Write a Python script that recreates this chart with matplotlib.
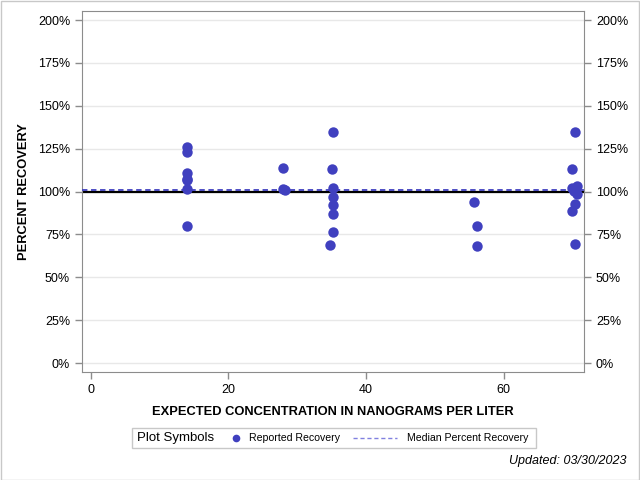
import matplotlib.pyplot as plt
from matplotlib.lines import Line2D
from matplotlib.patches import Rectangle
from matplotlib.ticker import FuncFormatter

# expected concentration (ng/L) and reported recovery (%)
conc = [14.0, 14.0, 14.0, 14.0, 14.0, 14.0, 14.0,
        27.9, 28.0, 28.3,
        35.2, 35.0, 35.2, 35.2, 35.2, 35.2, 35.2, 34.8,
        55.7, 56.1, 56.1,
        70.35, 70.0, 70.0, 70.6, 70.3, 70.6, 70.35, 70.0, 70.35]
recovery = [126.0, 123.0, 110.8, 107.5, 106.5, 101.5, 80.0,
            101.5, 113.8, 100.6,
            135.0, 113.2, 102.2, 96.8, 92.1, 86.8, 76.5, 68.8,
            94.0, 79.8, 68.2,
            134.8, 113.2, 102.2, 103.3, 100.2, 98.3, 92.6, 88.8, 69.4]
median_recovery = 101.1
ytick_vals = [0, 25, 50, 75, 100, 125, 150, 175, 200]
xtick_vals = [0, 20, 40, 60]

dot_color = '#4040BF'

plt.rcParams['font.family'] = ['Liberation Sans', 'DejaVu Sans']

fig = plt.figure(figsize=(6.4, 4.8), dpi=100)
fig.patches.append(Rectangle((0.001, 0.001), 0.997, 0.997, transform=fig.transFigure,
                             fill=False, edgecolor='#C8C8C8', linewidth=1))
ax = fig.add_axes([0.128, 0.2244, 0.7847, 0.7521])

ax.set_xlim(-1.26, 71.7)
ax.set_ylim(-5.4, 205.1)

for v in ytick_vals:
    ax.axhline(v, color='#E8E8E8', linewidth=1, zorder=0)

ax.axhline(100, color='black', linewidth=1.6, zorder=2)
ax.axhline(median_recovery, color=dot_color, linewidth=1.3, linestyle=(0, (3, 2)), zorder=3)
ax.plot(conc, recovery, 'o', color=dot_color, markersize=7.5, markeredgewidth=0, zorder=4)

ax.set_xticks(xtick_vals)
ax.set_yticks(ytick_vals)
pct = FuncFormatter(lambda v, p: f'{v:.0f}%')
ax.yaxis.set_major_formatter(pct)
ax.tick_params(axis='both', colors='#8C8C8C', labelcolor='black', labelsize=9, length=5, width=1)
ax.tick_params(axis='y', right=True, labelright=True)
for s in ax.spines.values():
    s.set_color('#8C8C8C')

ax.set_xlabel('EXPECTED CONCENTRATION IN NANOGRAMS PER LITER', fontsize=9.3,
              fontweight='bold', labelpad=7)
ax.set_ylabel('PERCENT RECOVERY', fontsize=9.3, fontweight='bold', labelpad=6)

# legend box: title + two entries on one row
ly = 0.0875
fig.patches.append(Rectangle((0.206, 0.067), 0.632, 0.041, transform=fig.transFigure,
                             fill=False, edgecolor='#C8C8C8', linewidth=1))
fig.text(0.214, ly, 'Plot Symbols', fontsize=9.5, va='center', ha='left')
fig.lines.append(Line2D([0.369], [ly], transform=fig.transFigure, linestyle='none',
                        marker='o', color=dot_color, markersize=5.5, markeredgewidth=0))
fig.text(0.389, ly, 'Reported Recovery', fontsize=7.6, va='center', ha='left')
fig.lines.append(Line2D([0.552, 0.621], [ly, ly], transform=fig.transFigure,
                        color='#8080E0', linestyle=(0, (3, 2)), linewidth=1))
fig.text(0.636, ly, 'Median Percent Recovery', fontsize=7.6, va='center', ha='left')

fig.text(0.979, 0.04, 'Updated: 03/30/2023', fontsize=9, style='italic', ha='right', va='center')

fig.savefig('out.png', dpi=100)
